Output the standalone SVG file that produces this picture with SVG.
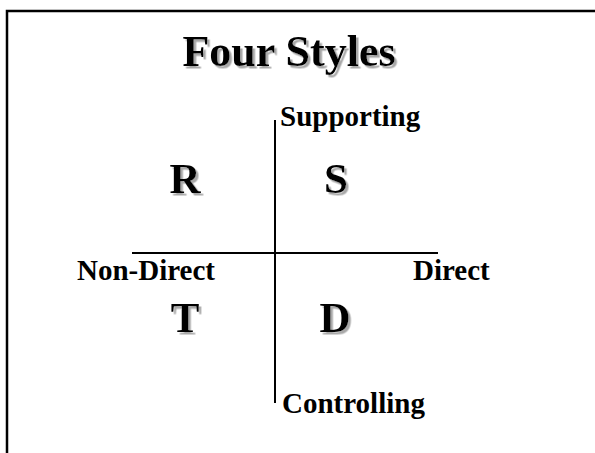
<svg xmlns="http://www.w3.org/2000/svg" width="595" height="453" viewBox="0 0 595 453">
<defs>
  <filter id="shadow" x="-20%" y="-20%" width="140%" height="140%">
    <feDropShadow dx="2.5" dy="2.5" stdDeviation="0.4" flood-color="#a8a8a8" flood-opacity="1"/>
  </filter>
</defs>
<style>
  text { font-family: "Liberation Serif", "Times New Roman", serif; font-weight: bold; fill: #000; }
  .title { font-size: 44px; text-anchor: middle; filter: url(#shadow); }
  .big { font-size: 43px; text-anchor: middle; filter: url(#shadow); }
  .lbl { font-size: 29px; }
  .axis { stroke: #000; stroke-width: 2; fill: none; }
</style>
<rect x="0" y="0" width="595" height="453" fill="#fff"/>
<path d="M7,460 V11 H600" stroke="#000" stroke-width="2.5" fill="none"/>
<g id="title">
  <text class="title" x="289" y="66">Four Styles</text>
</g>
<g id="connectors">
  <line class="axis" x1="132" y1="253" x2="438" y2="253"/>
  <line class="axis" x1="275" y1="120" x2="275" y2="403"/>
</g>
<g id="label-supporting"><text class="lbl" x="280" y="126">Supporting</text></g>
<g id="label-nondirect"><text class="lbl" x="77" y="280">Non-Direct</text></g>
<g id="label-direct"><text class="lbl" x="413" y="280">Direct</text></g>
<g id="label-controlling"><text class="lbl" x="282" y="413">Controlling</text></g>
<g id="node-R"><text class="big" x="185" y="193">R</text></g>
<g id="node-S"><text class="big" x="336" y="193">S</text></g>
<g id="node-T"><text class="big" x="185" y="332">T</text></g>
<g id="node-D"><text class="big" x="335" y="332">D</text></g>
</svg>
